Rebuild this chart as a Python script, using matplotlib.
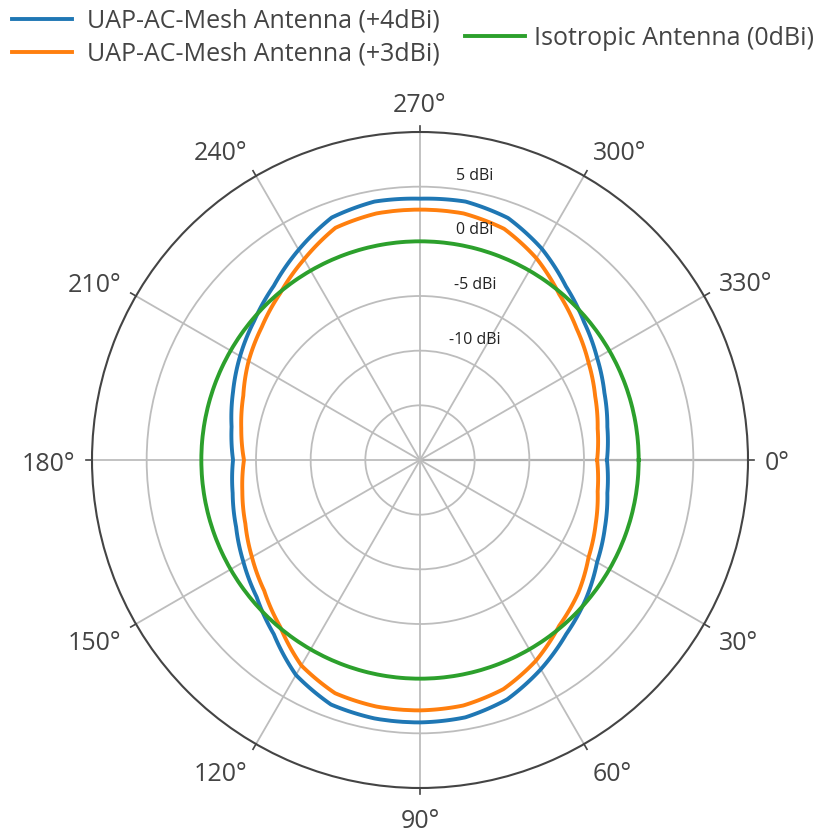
import numpy as np
import matplotlib.pyplot as plt

plt.rcParams['font.family'] = ['Open Sans', 'DejaVu Sans']

# angles in degrees (clockwise, 0 = east)
angles = [0, 10, 20, 30, 40, 50, 60, 70, 80, 90, 100, 110, 120, 130, 140, 150, 160, 170,
          180, 190, 200, 210, 220, 230, 240, 250, 260, 270, 280, 290, 300, 310, 320, 330, 340, 350, 360]

# gain in dBi
mesh_4dbi = [-2.9, -2.6, -2.0, -1.3, -0.2, 0.8, 2.1, 3.3, 3.9, 4.0, 4.0, 3.8, 2.7, 0.8, -0.5, -1.35, -2.1, -2.6,
             -2.9, -2.5, -1.8, -1.0, -0.2, 0.8, 2.2, 3.6, 4.0, 3.9, 4.0, 3.55, 2.3, 0.75, -0.4, -1.3, -2.05, -2.6, -2.9]
mesh_3dbi = [-3.8, -3.5, -2.9, -2.2, -1.1, -0.2, 1.2, 2.3, 2.8, 2.9, 2.9, 2.7, 1.7, -0.1, -1.4, -2.25, -3.0, -3.5,
             -3.9, -3.4, -2.8, -1.9, -1.1, -0.1, 1.2, 2.6, 2.9, 2.9, 2.9, 2.5, 1.3, -0.2, -1.3, -2.2, -2.95, -3.5, -3.8]
isotropic = [0.0] * len(angles)

r_ticks = [-15, -10, -5, 0, 5]
r_labels = ['-10 dBi', '-5 dBi', '0 dBi', '5 dBi']
r_label_vals = [-10, -5, 0, 5]
theta_ticks = [0, 30, 60, 90, 120, 150, 180, 210, 240, 270, 300, 330]

fig = plt.figure(figsize=(8.21, 8.34), dpi=100)
ax = fig.add_axes([92 / 821, 46 / 834, 656 / 821, 656 / 834], projection='polar')
ax.set_theta_zero_location('E')
ax.set_theta_direction(-1)
ax.set_rlim(-20, 10)

th = np.deg2rad(angles)
lines = []
for vals, col, lab in [(mesh_4dbi, '#1f77b4', 'UAP-AC-Mesh Antenna (+4dBi)'),
                       (mesh_3dbi, '#ff7f0e', 'UAP-AC-Mesh Antenna (+3dBi)'),
                       (isotropic, '#2ca02c', 'Isotropic Antenna (0dBi)')]:
    l, = ax.plot(th, vals, color=col, lw=2.8, label=lab, solid_joinstyle='round')
    l.get_path()._interpolation_steps = 40  # draw as arcs, not chords
    lines.append(l)

ax.set_rticks(r_ticks)
ax.set_yticklabels([])
ax.set_xticks(np.deg2rad(theta_ticks))
ax.set_xticklabels([''] * len(theta_ticks))
ax.tick_params(axis='x', length=0)
ax.grid(True, color='#bdbdbd', lw=1.3)
ax.spines['polar'].set_color('#444444')
ax.spines['polar'].set_linewidth(1.5)
ax.axvline(0, color='#444444', lw=1.5, zorder=1)

# angular ticks + labels, plotly-like placement outside the ring
R = 345
for t in theta_ticks:
    c, s = np.cos(np.deg2rad(t)), np.sin(np.deg2rad(t))
    ax.plot([0.5 + 0.5 * c, 0.5 + (328 + 6) * c / 656], [0.5 - 0.5 * s, 0.5 - (328 + 6) * s / 656],
            transform=ax.transAxes, color='#444444', lw=1.2, clip_on=False)
    ha = 'left' if c > 0.01 else ('right' if c < -0.01 else 'center')
    x = 0.5 + R * c / 656
    y = 0.5 - (R * s + 13 * s + 4) / 656
    ax.text(x, y, f'{t}°', transform=ax.transAxes, ha=ha, va='center',
            fontsize=18, color='#444444', clip_on=False)

# radial labels, placed just above each ring
for v, lab in zip(r_label_vals, r_labels):
    rad = (v + 20) / 30 * 0.5
    ax.text(0.5 + 55 / 656, 0.5 + rad + 11 / 656, lab, transform=ax.transAxes,
            ha='center', va='center', fontsize=11.5, color='#222222')

fig.legend(handles=lines[:2], loc='upper left', bbox_to_anchor=(12 / 821, 1 - 9 / 834),
           frameon=False, fontsize=18, handlelength=2.4, handletextpad=0.6,
           labelspacing=0.3, borderpad=0, borderaxespad=0, labelcolor='#444444')
fig.legend(handles=lines[2:], loc='upper left', bbox_to_anchor=(465 / 821, 1 - 26 / 834),
           frameon=False, fontsize=18, handlelength=2.4, handletextpad=0.35,
           borderpad=0, borderaxespad=0, labelcolor='#444444')

fig.savefig('out.png', dpi=100)
